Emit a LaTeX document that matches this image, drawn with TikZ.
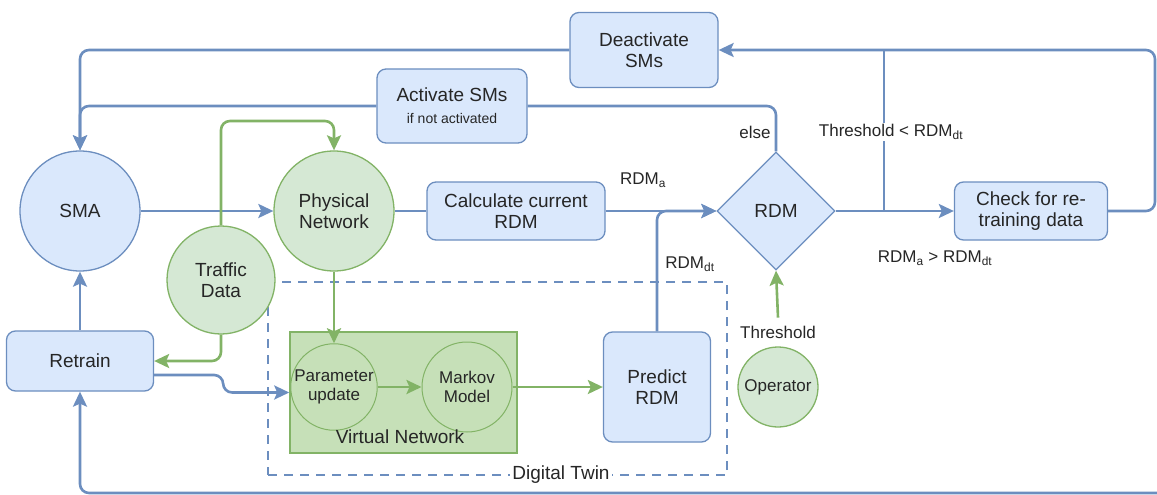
\documentclass[tikz,border=0pt]{standalone}
\usepackage{fontspec}
\setmainfont{Liberation Sans}
\usetikzlibrary{shapes.geometric,arrows.meta}
\definecolor{bfill}{HTML}{DAE8FC}
\definecolor{bline}{HTML}{6C8EBF}
\definecolor{gfill}{HTML}{D5E8D4}
\definecolor{gline}{HTML}{82B366}
\definecolor{vnfill}{HTML}{C6E0B8}
\definecolor{txt}{HTML}{262626}
\tikzset{
  base/.style={text=txt, font=\fontsize{19}{21}\selectfont, align=center, inner sep=0pt},
  bluebox/.style={base, rectangle, rounded corners=9pt, draw=bline, fill=bfill, line width=1.3pt},
  bluecirc/.style={base, circle, draw=bline, fill=bfill, line width=1.3pt},
  greencirc/.style={base, circle, draw=gline, fill=gfill, line width=1.3pt},
  inner/.style={base, circle, draw=gline, fill=vnfill, line width=1pt, font=\fontsize{17}{19}\selectfont},
  lbl/.style={text=txt, font=\fontsize{17}{19}\selectfont, inner sep=1pt},
  bflow/.style={draw=bline, line width=2.6pt, rounded corners=9pt},
  gflow/.style={draw=gline, line width=2.6pt, rounded corners=9pt},
  tip/.style={-{Stealth[length=15pt,width=14pt,inset=3pt]}},
}
\begin{document}
\begin{tikzpicture}[x=1pt,y=-1pt]
\useasboundingbox (0,0) rectangle (1157,495);

% Digital twin frame and the virtual network inside it
\node[draw=bline, line width=2.2pt, dash pattern=on 9pt off 7pt, minimum width=459pt, minimum height=193pt, inner sep=0pt] (dt) at (497.5,378.5) {};
\node[draw=gline, fill=vnfill, line width=1.5pt, minimum width=227pt, minimum height=121pt, inner sep=0pt] (vn) at (403.5,392.5) {};
\node[inner, minimum size=86pt] (param) at (334,387) {Parameter\\update};
\node[inner, minimum size=90pt] (markov) at (467,387) {Markov\\Model};
\node[base] (vnlbl) at (400,437) {Virtual Network};

% Main nodes
\node[bluecirc, minimum size=120pt] (sma) at (80,211) {SMA};
\node[greencirc, minimum size=120pt] (pn) at (334,211) {Physical\\Network};
\node[bluebox, minimum width=178pt, minimum height=58pt] (calc) at (516,211) {Calculate current\\RDM};
\node[base, diamond, aspect=1, draw=bline, fill=bfill, line width=1.3pt, minimum width=118pt, minimum height=118pt] (rdm) at (776,211) {RDM};
\node[bluebox, minimum width=153pt, minimum height=58pt] (check) at (1031,211) {Check for re-\\training data};
\node[bluebox, minimum width=148pt, minimum height=75pt] (deact) at (644,50) {Deactivate\\SMs};
\node[bluebox, minimum width=150pt, minimum height=74pt] (act) at (452,106) {Activate SMs\\[1pt]{\fontsize{14}{16}\selectfont if not activated}};
\node[bluebox, minimum width=147pt, minimum height=60pt] (retrain) at (80,361) {Retrain};
\node[bluebox, minimum width=107pt, minimum height=110pt] (predict) at (657,387) {Predict\\RDM};
\node[greencirc, minimum size=108pt] (td) at (221,280) {Traffic\\Data};
\node[greencirc, minimum size=80pt, font=\fontsize{17}{19}\selectfont] (op) at (778,387) {Operator};
\node[lbl] (thr) at (778,332) {Threshold};

% Free ends and bends
\coordinate (j1) at (884,211);
\coordinate (j2) at (884,50);
\coordinate (ne) at (1155,50);
\coordinate (bot) at (1162,493);
\coordinate (gtop) at (334,121);

% Blue flow
\draw[bflow, tip] (sma.east) -- (pn.west);
\draw[bflow] (pn.east) -- (calc.west);
\draw[bflow, tip] (calc.east) -- (rdm.west);
\draw[bflow, tip] (predict.north) |- (rdm.west);
\draw[bflow, tip] (rdm.east) -- (check.west);
\draw[bflow] (j1) -- (j2);
\draw[bflow, tip] (check.east) -| (ne) -- (deact.east);
\draw[bflow] (rdm.north) |- (act.east);
\draw[bflow, tip] (act.west) -| (sma.north);
\draw[bflow, tip] (deact.west) -| (sma.north);
\draw[bflow, tip] (retrain.north) -- (sma.south);
\draw[bflow, tip] (bot) -| (retrain.south);
\draw[bflow, tip] ([yshift=-14pt]retrain.east) -- ++(69,0) |- (vn.west);

% Green flow
\draw[gflow, tip] (td.north) |- (gtop) -- (pn.north);
\draw[gflow, tip] (td.south) |- (retrain.east);
\draw[gflow, tip] (pn.south) -- (pn.south |- param.north);
\draw[gflow, tip] (param.east) -- (markov.west);
\draw[gflow, tip] (markov.east) -- (predict.west);
\draw[gflow, tip] ([yshift=7pt]thr.north) -- (rdm.south);

% Edge labels
\node[lbl] (la) at (643,180) {RDM\textsubscript{a}};
\node[lbl] (ldt) at (690,264) {RDM\textsubscript{dt}};
\node[lbl] (lelse) at (755,132) {else};
\node[lbl, fill=white] (lthr) at (891,132) {Threshold < RDM\textsubscript{dt}};
\node[lbl] (lgt) at (935,258) {RDM\textsubscript{a} > RDM\textsubscript{dt}};
\node[base, fill=white, inner sep=2pt] (ldtw) at (561,475) {Digital Twin};
\end{tikzpicture}
\end{document}
